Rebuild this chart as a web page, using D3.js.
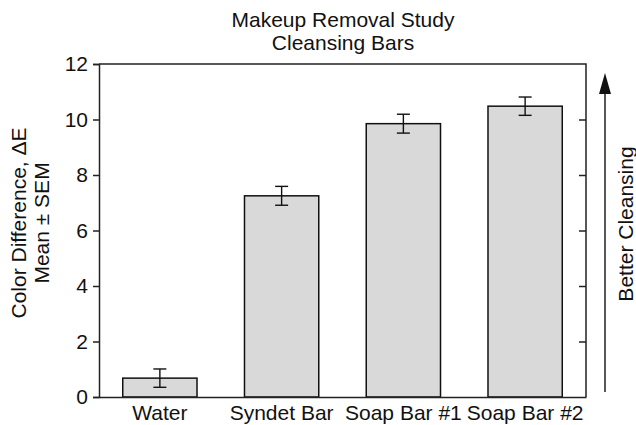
<!DOCTYPE html>
<html lang="en">
<head>
    <meta charset="UTF-8">
    <title>Makeup Removal Study</title>
    <script src="https://d3js.org/d3.v7.min.js"></script>
    <style>
        body { margin: 0; background: #fff; overflow: hidden; }
        svg { display: block; }
        text { font-family: "Liberation Sans", Arial, Helvetica, sans-serif; fill: #111; }
    </style>
</head>
<body>
<div id="chart"></div>

<script>
    // values
    var categories = ["Water", "Syndet Bar", "Soap Bar #1", "Soap Bar #2"];
    var means = [0.68, 7.25, 9.85, 10.48];
    var sems = [0.33, 0.34, 0.34, 0.33];
    var yTicks = [0, 2, 4, 6, 8, 10, 12];
    var titleLines = ["Makeup Removal Study", "Cleansing Bars"];
    var yLabelLines = ["Color Difference, \u0394E", "Mean \u00b1 SEM"];

    var fontSize = "21px";

    var margin = {top: 64, right: 50, bottom: 28, left: 99},
        width = 636 - margin.left - margin.right,
        height = 425 - margin.top - margin.bottom;

    var svg = d3.select("#chart")
        .append("svg")
            .attr("width", 636)
            .attr("height", 425);

    var g = svg.append("g")
        .attr("transform", "translate(" + margin.left + "," + margin.top + ")");

    var x = d3.scaleBand()
        .domain(categories)
        .range([0, width])
        .paddingInner(0.39)
        .paddingOuter(0.195);

    var y = d3.scaleLinear()
        .domain([0, 12])
        .range([height, 0]);

    var data = categories.map(function(c, i) {
        return {name: c, mean: means[i], sem: sems[i]};
    });

    // bars
    g.selectAll("rect.bar")
        .data(data)
        .enter()
        .append("rect")
            .attr("class", "bar")
            .attr("x", function(d) { return x(d.name); })
            .attr("y", function(d) { return y(d.mean); })
            .attr("width", x.bandwidth())
            .attr("height", function(d) { return height - y(d.mean); })
            .style("fill", "#d9d9d9")
            .style("stroke", "#111")
            .style("stroke-width", "1.5px");

    // error bars
    var err = g.selectAll("g.err")
        .data(data)
        .enter()
        .append("g")
            .attr("class", "err")
            .attr("transform", function(d) { return "translate(" + (x(d.name) + x.bandwidth() / 2) + ",0)"; })
            .style("stroke", "#111")
            .style("stroke-width", "1.4px");

    err.append("line")
        .attr("y1", function(d) { return y(d.mean - d.sem); })
        .attr("y2", function(d) { return y(d.mean + d.sem); });
    err.append("line")
        .attr("x1", -6.5).attr("x2", 6.5)
        .attr("y1", function(d) { return y(d.mean + d.sem); })
        .attr("y2", function(d) { return y(d.mean + d.sem); });
    err.append("line")
        .attr("x1", -6.5).attr("x2", 6.5)
        .attr("y1", function(d) { return y(d.mean - d.sem); })
        .attr("y2", function(d) { return y(d.mean - d.sem); });

    // frame: top and right
    g.append("path")
        .attr("d", "M0,0H" + width + "V" + height)
        .style("fill", "none")
        .style("stroke", "#222")
        .style("stroke-width", "1.5px");

    // left axis
    var yAxis = g.append("g")
        .call(d3.axisLeft(y).tickValues(yTicks).tickSize(6).tickPadding(5));
    yAxis.select(".domain").style("stroke", "#222").style("stroke-width", "1.5px");
    yAxis.selectAll(".tick line").style("stroke", "#222").style("stroke-width", "1.5px");
    yAxis.selectAll("text").style("font-size", fontSize).style("font-family", "'Liberation Sans', Arial, sans-serif").attr("fill", "#111");

    // right axis, ticks inside, no labels
    var yRight = g.append("g")
        .attr("transform", "translate(" + width + ",0)")
        .call(d3.axisRight(y).tickValues(yTicks.slice(1, -1)).tickSize(-7).tickFormat(""));
    yRight.select(".domain").remove();
    yRight.selectAll(".tick line").style("stroke", "#222").style("stroke-width", "1.5px");

    // bottom axis
    var xAxis = g.append("g")
        .attr("transform", "translate(0," + height + ")")
        .call(d3.axisBottom(x).tickSize(0).tickPadding(8));
    xAxis.select(".domain").style("stroke", "#222").style("stroke-width", "1.5px");
    xAxis.selectAll("text").style("font-size", fontSize).style("font-family", "'Liberation Sans', Arial, sans-serif").attr("fill", "#111");

    // title
    svg.append("g").selectAll("text")
        .data(titleLines)
        .enter()
        .append("text")
            .attr("x", 343)
            .attr("y", function(d, i) { return 27 + i * 23; })
            .style("text-anchor", "middle")
            .style("font-size", fontSize)
            .text(function(d) { return d; });

    // y label
    svg.append("g")
        .attr("transform", "translate(0,223) rotate(-90)")
        .selectAll("text")
        .data(yLabelLines)
        .enter()
        .append("text")
            .attr("x", 0)
            .attr("y", function(d, i) { return 26 + i * 23; })
            .style("text-anchor", "middle")
            .style("font-size", fontSize)
            .text(function(d) { return d; });

    // arrow and right label
    svg.append("line")
        .attr("x1", 605).attr("x2", 605)
        .attr("y1", 392).attr("y2", 90)
        .style("stroke", "#111")
        .style("stroke-width", "1.4px");
    svg.append("path")
        .attr("d", "M605,73L611,94L599,94Z")
        .style("fill", "#111");

    svg.append("text")
        .attr("transform", "translate(633,224) rotate(-90)")
        .style("text-anchor", "middle")
        .style("font-size", fontSize)
        .text("Better Cleansing");
</script>
</body>
</html>
